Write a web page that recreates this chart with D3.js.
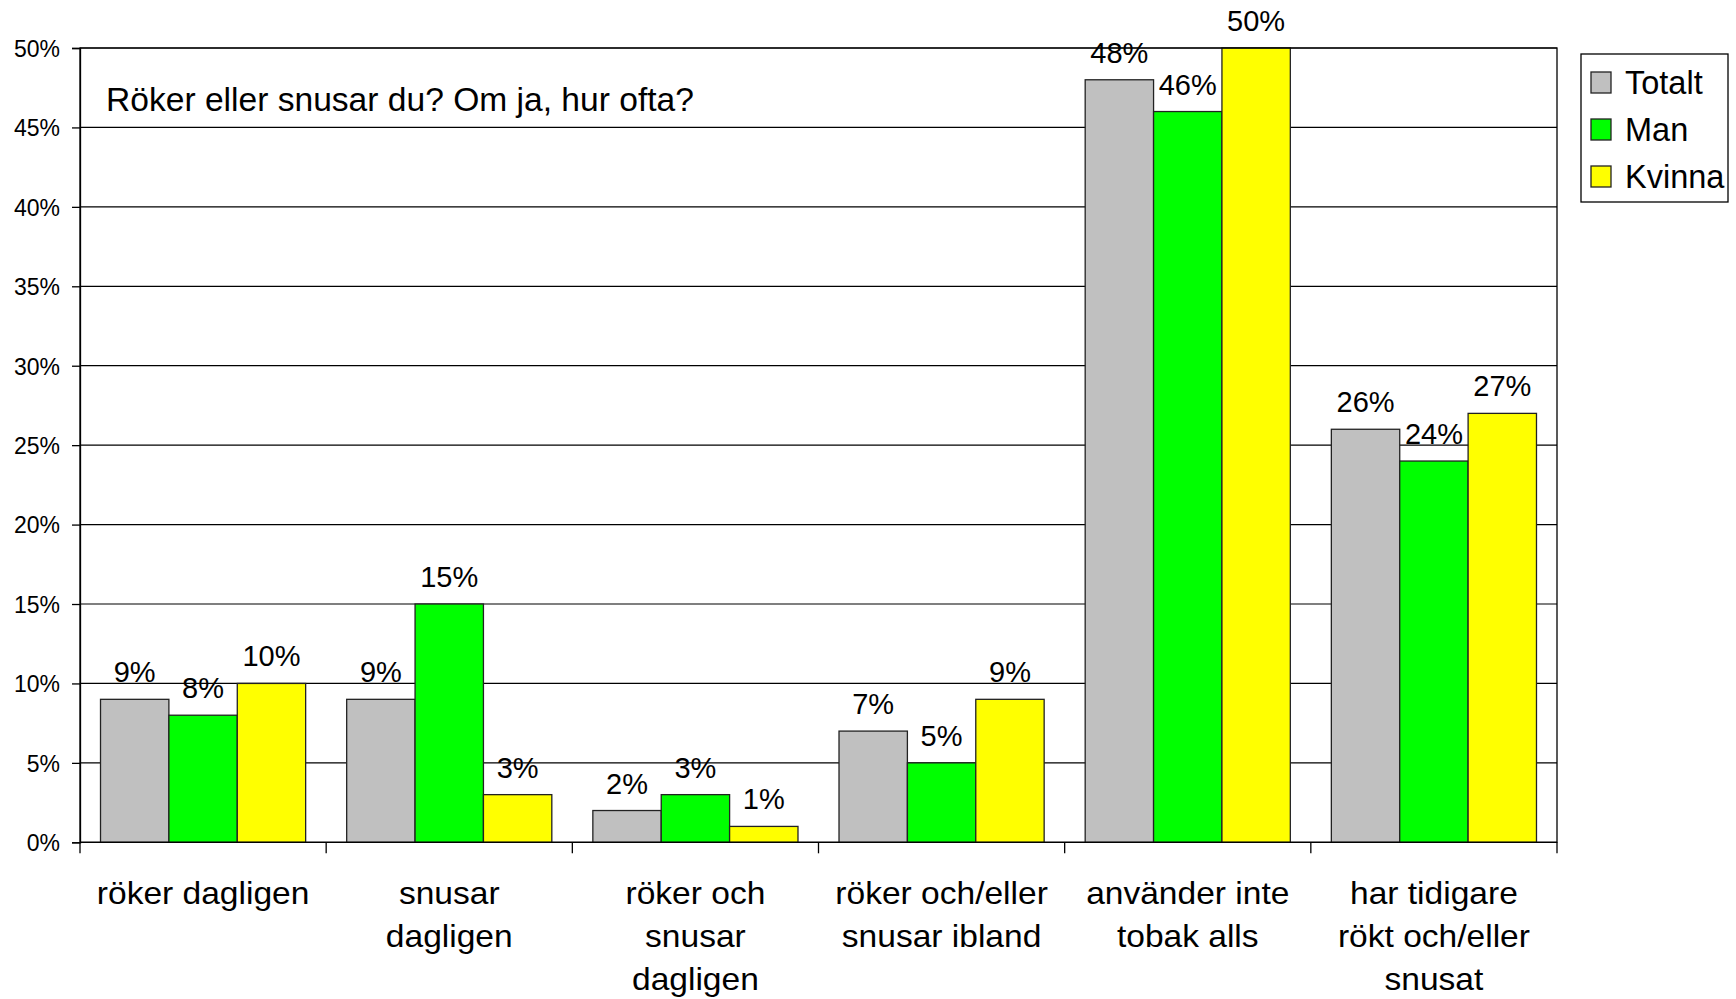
<!DOCTYPE html>
<html><head><meta charset="utf-8">
<script src="https://cdn.jsdelivr.net/npm/d3@7"></script>
<style>
html,body{margin:0;padding:0;background:#fff;}
text{font-family:"Liberation Sans",Arial,sans-serif;fill:#000;}
</style></head>
<body>
<svg id="c" width="1736" height="999"></svg>
<script>
const categories = [
  ["röker dagligen"],
  ["snusar", "dagligen"],
  ["röker och", "snusar", "dagligen"],
  ["röker och/eller", "snusar ibland"],
  ["använder inte", "tobak alls"],
  ["har tidigare", "rökt och/eller", "snusat"]
];
const seriesNames = ["Totalt", "Man", "Kvinna"];
const totalt = [9, 9, 2, 7, 48, 26];
const man = [8, 15, 3, 5, 46, 24];
const kvinna = [10, 3, 1, 9, 50, 27];
const yTicks = [0, 5, 10, 15, 20, 25, 30, 35, 40, 45, 50];
const colors = ["#C0C0C0", "#00FF00", "#FFFF00"];
const title = "Röker eller snusar du? Om ja, hur ofta?";

const seriesValues = [totalt, man, kvinna];
const svg = d3.select("#c");
const L = 80, R = 1557, T = 48, B = 842.3;

const x0 = d3.scaleBand().domain(d3.range(categories.length)).range([L, R]).padding(0);
const x1 = d3.scaleBand().domain(d3.range(seriesNames.length)).range([0, x0.bandwidth()]).paddingInner(0).paddingOuter(0.3);
const y = d3.scaleLinear().domain([0, 50]).range([B, T]);

// gridlines
svg.append("g").selectAll("line").data(yTicks).join("line")
  .attr("x1", L).attr("x2", R).attr("y1", d => y(d)).attr("y2", d => y(d))
  .attr("stroke", "#000").attr("stroke-width", 1.2);

// bars
const groups = svg.append("g").selectAll("g").data(categories).join("g")
  .attr("transform", (d, i) => `translate(${x0(i)},0)`);
groups.each(function(c, i) {
  const g = d3.select(this);
  seriesValues.forEach((vals, s) => {
    g.append("rect")
      .attr("x", x1(s)).attr("width", x1.bandwidth())
      .attr("y", y(vals[i])).attr("height", B - y(vals[i]))
      .attr("fill", colors[s]).attr("stroke", "#222").attr("stroke-width", 1.3);
  });
  seriesValues.forEach((vals, s) => {
    g.append("text")
      .attr("x", x1(s) + x1.bandwidth() / 2).attr("y", y(vals[i]) - 17)
      .attr("text-anchor", "middle").attr("font-size", 29)
      .text(vals[i] + "%");
  });
});

// plot border
svg.append("rect").attr("x", L).attr("y", T).attr("width", R - L).attr("height", B - T)
  .attr("fill", "none").attr("stroke", "#000").attr("stroke-width", 1.3);

// y axis
const yAxis = d3.axisLeft(y).tickValues(yTicks).tickFormat(d => d + "%").tickSize(8).tickPadding(12);
const ya = svg.append("g").attr("transform", `translate(${L},0)`).call(yAxis);
ya.select(".domain").attr("stroke", "#000").attr("stroke-width", 1.3);
ya.selectAll(".tick line").attr("stroke", "#000").attr("stroke-width", 1.3);
ya.selectAll(".tick text").attr("font-size", 23).attr("font-family", "Liberation Sans, Arial, sans-serif").attr("fill", "#000").attr("dy", "0.36em");

// x axis: boundary ticks
const xa = svg.append("g");
const bounds = d3.range(categories.length + 1).map(i => i < categories.length ? x0(i) : x0(i - 1) + x0.bandwidth());
xa.selectAll("line").data(bounds).join("line")
  .attr("x1", d => d).attr("x2", d => d).attr("y1", B).attr("y2", B + 11)
  .attr("stroke", "#000").attr("stroke-width", 1.3);
const catLabels = xa.selectAll("g.cl").data(categories).join("g").attr("class", "cl")
  .attr("transform", (d, i) => `translate(${x0(i) + x0.bandwidth() / 2},904) scale(1.1,1)`);
catLabels.each(function(lines) {
  d3.select(this).selectAll("text").data(lines).join("text")
    .attr("x", 0).attr("y", (d, j) => j * 43)
    .attr("text-anchor", "middle").attr("font-size", 30.5)
    .text(d => d);
});

// title
svg.append("text").attr("x", 106).attr("y", 111).attr("font-size", 33.6).text(title);

// legend
const lg = svg.append("g");
lg.append("rect").attr("x", 1581).attr("y", 54).attr("width", 147).attr("height", 148)
  .attr("fill", "#fff").attr("stroke", "#000").attr("stroke-width", 1.3);
seriesNames.forEach((n, s) => {
  lg.append("rect").attr("x", 1591).attr("y", 72 + s * 47).attr("width", 20).attr("height", 21)
    .attr("fill", colors[s]).attr("stroke", "#222").attr("stroke-width", 1.3);
  lg.append("text").attr("x", 1625).attr("y", 94 + s * 47).attr("font-size", 32.5).text(n);
});
</script>
</body></html>
